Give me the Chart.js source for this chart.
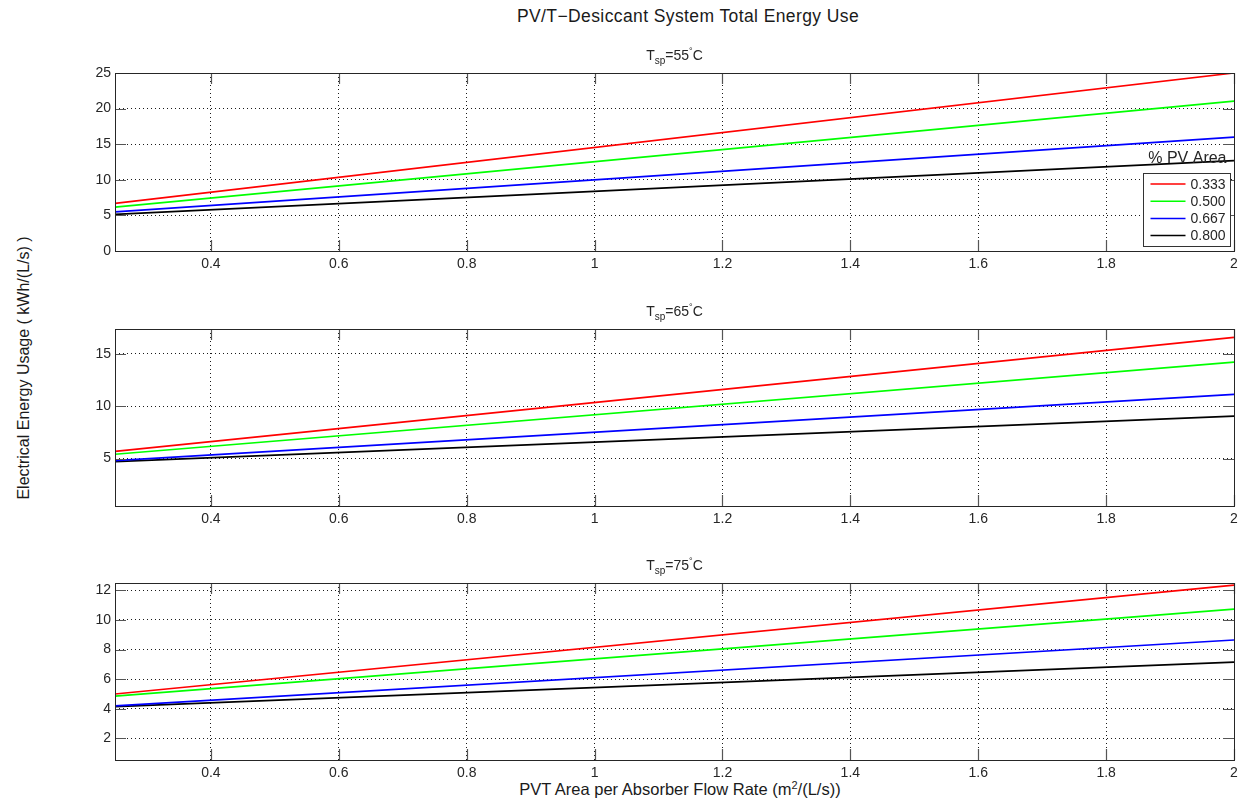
<!DOCTYPE html>
<html>
<head>
<meta charset="utf-8">
<title>PV/T−Desiccant System Total Energy Use</title>
<script src="https://cdn.jsdelivr.net/npm/chart.js@4/dist/chart.umd.min.js"></script>
<style>
  html, body { margin: 0; padding: 0; background: #fff; }
  #fig { position: relative; width: 1244px; height: 801px; overflow: hidden;
         font-family: "Liberation Sans", Arial, Helvetica, sans-serif; color: #1a1a1a; }
  #fig canvas { position: absolute; left: 0; }
  .lbl { position: absolute; white-space: nowrap; line-height: 1; }
  #mainTitle { left: 688px; top: 8px; font-size: 17.5px; letter-spacing: 0.4px; transform: translateX(-50%); }
  #yTitle { left: 24px; top: 368px; font-size: 16px; transform: translate(-50%, -50%) rotate(-90deg); }
  #xTitle { left: 680px; top: 781px; font-size: 16.5px; transform: translateX(-50%); }
  #xTitle sup { font-size: 11px; vertical-align: 6px; line-height: 0; }
</style>
</head>
<body>
<div id="fig">
  <div class="lbl" id="mainTitle">PV/T−Desiccant System Total Energy Use</div>
  <div class="lbl" id="yTitle">Electrical Energy Usage ( kWh/(L/s) )</div>
  <div class="lbl" id="xTitle">PVT Area per Absorber Flow Rate (m<sup>2</sup>/(L/s))</div>
  <canvas id="p55" width="1244" height="285" style="top:0px"></canvas>
  <canvas id="p65" width="1244" height="255" style="top:285px"></canvas>
  <canvas id="p75" width="1244" height="261" style="top:540px"></canvas>
</div>
<script>
// PVT area per absorber flow rate, m²/(L/s): ends of the sweep
const flowRatio = [0.25, 2.0];
const xLim = [0.25, 2];
const xTicks = [0.4, 0.6, 0.8, 1, 1.2, 1.4, 1.6, 1.8, 2];

// share of collector area given to PV
const pvShare = ['0.333', '0.500', '0.667', '0.800'];

// electrical energy use, kWh/(L/s), setpoint 55 °C
const tsp55_pv333 = [6.70, 25.00];
const tsp55_pv500 = [6.15, 21.05];
const tsp55_pv667 = [5.50, 16.00];
const tsp55_pv800 = [5.15, 12.70];
const yLim55 = [0, 25];
const yTicks55 = [0, 5, 10, 15, 20, 25];

// setpoint 65 °C
const tsp65_pv333 = [5.68, 16.57];
const tsp65_pv500 = [5.41, 14.20];
const tsp65_pv667 = [4.80, 11.12];
const tsp65_pv800 = [4.70, 9.04];
const yLim65 = [0.47, 17.36];
const yTicks65 = [5, 10, 15];

// setpoint 75 °C
const tsp75_pv333 = [5.00, 12.36];
const tsp75_pv500 = [4.85, 10.74];
const tsp75_pv667 = [4.20, 8.65];
const tsp75_pv800 = [4.15, 7.16];
const yLim75 = [0.54, 12.5];
const yTicks75 = [2, 4, 6, 8, 10, 12];

// line colours, one per PV share
const lineColors = ['#ff0000', '#00ff00', '#0000ff', '#000000'];

const FONT = '"Liberation Sans", Arial, Helvetica, sans-serif';
const TEXT = '#262626';

function fmtTick(v) { return String(Math.round(v * 1000) / 1000); }

// MATLAB-style axes: inward ticks on all four sides, framed box,
// panel title with subscript/superscript, optional legend
const matlabAxes = {
  id: 'matlabAxes',
  afterDatasetsDraw(chart, args, opts) {
    const ctx = chart.ctx, a = chart.chartArea;
    const xs = chart.scales.x, ys = chart.scales.y;
    const L = 11;
    ctx.save();
    ctx.strokeStyle = '#555';
    ctx.lineWidth = 1.2;
    ctx.beginPath();
    xs.ticks.forEach(t => {
      const px = Math.round(xs.getPixelForValue(t.value)) + 0.5;
      ctx.moveTo(px, a.bottom); ctx.lineTo(px, a.bottom - L);
      ctx.moveTo(px, a.top); ctx.lineTo(px, a.top + L);
    });
    ys.ticks.forEach(t => {
      const py = Math.round(ys.getPixelForValue(t.value)) + 0.5;
      ctx.moveTo(a.left, py); ctx.lineTo(a.left + L, py);
      ctx.moveTo(a.right, py); ctx.lineTo(a.right - L, py);
    });
    ctx.stroke();
    ctx.strokeStyle = '#262626';
    ctx.lineWidth = 1;
    ctx.strokeRect(Math.round(a.left) + 0.5, Math.round(a.top) + 0.5,
                   Math.round(a.right - a.left), Math.round(a.bottom - a.top));
    ctx.restore();
  },
  afterDraw(chart, args, opts) {
    const ctx = chart.ctx, a = chart.chartArea;
    ctx.save();
    // panel title  T_sp=XX°C
    const parts = [
      { t: 'T', size: 14, dy: 0 },
      { t: 'sp', size: 10, dy: 4 },
      { t: '=' + opts.setpoint, size: 14, dy: 0 },
      { t: '°', size: 9, dy: -6 },
      { t: 'C', size: 14, dy: 0 }
    ];
    let total = 0;
    parts.forEach(p => { ctx.font = p.size + 'px ' + FONT; p.w = ctx.measureText(p.t).width; total += p.w; });
    let x = (a.left + a.right) / 2 - total / 2;
    const base = a.top - 13;
    ctx.fillStyle = TEXT;
    ctx.textBaseline = 'alphabetic';
    ctx.textAlign = 'left';
    parts.forEach(p => { ctx.font = p.size + 'px ' + FONT; ctx.fillText(p.t, x, base + p.dy); x += p.w; });

    if (opts.legend) {
      const bw = 87, bh = 73;
      const bx = Math.round(a.right - 4 - bw) + 0.5;
      const by = Math.round(a.bottom - 5 - bh) + 0.5;
      ctx.font = '16px ' + FONT;
      ctx.textAlign = 'right';
      ctx.fillText('% PV Area', bx + bw - 4, by - 11);
      ctx.fillStyle = '#fff';
      ctx.fillRect(bx, by, bw, bh);
      ctx.strokeStyle = '#333';
      ctx.lineWidth = 1;
      ctx.strokeRect(bx, by, bw, bh);
      ctx.font = '14px ' + FONT;
      ctx.textAlign = 'left';
      ctx.textBaseline = 'middle';
      chart.data.datasets.forEach((ds, i) => {
        const ry = by + 10.5 + i * 17.2;
        ctx.strokeStyle = ds.borderColor;
        ctx.lineWidth = 1.5;
        ctx.beginPath();
        ctx.moveTo(bx + 7, ry); ctx.lineTo(bx + 42, ry);
        ctx.stroke();
        ctx.fillStyle = TEXT;
        ctx.fillText(ds.label, bx + 47, ry + 1);
      });
    }
    ctx.restore();
  }
};

function makePanel(id, series, yLim, yTicks, setpoint, pad, legend) {
  const datasets = series.map((vals, i) => ({
    label: pvShare[i],
    data: flowRatio.map((x, k) => ({ x: x, y: vals[k] })),
    borderColor: lineColors[i],
    borderWidth: 1.7,
    pointRadius: 0,
    tension: 0,
    fill: false
  }));
  const tickFont = { family: FONT, size: 14 };
  return new Chart(document.getElementById(id), {
    type: 'line',
    data: { datasets },
    options: {
      responsive: false,
      animation: false,
      devicePixelRatio: 1,
      layout: { padding: { left: 70, right: 10, top: pad[0], bottom: pad[1] } },
      plugins: {
        legend: { display: false },
        tooltip: { enabled: false },
        matlabAxes: { setpoint: setpoint, legend: legend }
      },
      scales: {
        x: {
          type: 'linear', min: xLim[0], max: xLim[1],
          afterBuildTicks: s => { s.ticks = xTicks.map(v => ({ value: v })); },
          afterFit: s => { s.height = 30; },
          ticks: { padding: 5, color: TEXT, font: tickFont, callback: v => fmtTick(v), maxRotation: 0, autoSkip: false },
          grid: { color: '#1a1a1a', lineWidth: 1, drawTicks: false },
          border: { display: false, dash: [1, 3] }
        },
        y: {
          type: 'linear', min: yLim[0], max: yLim[1],
          afterBuildTicks: s => { s.ticks = yTicks.map(v => ({ value: v })); },
          afterFit: s => { s.width = 45; },
          ticks: { padding: 4, color: TEXT, font: tickFont, callback: v => fmtTick(v), autoSkip: false },
          grid: { color: '#1a1a1a', lineWidth: 1, drawTicks: false },
          border: { display: false, dash: [1, 3] }
        }
      }
    },
    plugins: [matlabAxes]
  });
}

makePanel('p55', [tsp55_pv333, tsp55_pv500, tsp55_pv667, tsp55_pv800], yLim55, yTicks55, '55', [73, 4], true);
makePanel('p65', [tsp65_pv333, tsp65_pv500, tsp65_pv667, tsp65_pv800], yLim65, yTicks65, '65', [44, 4], false);
makePanel('p75', [tsp75_pv333, tsp75_pv500, tsp75_pv667, tsp75_pv800], yLim75, yTicks75, '75', [43, 11], false);
</script>
</body>
</html>
